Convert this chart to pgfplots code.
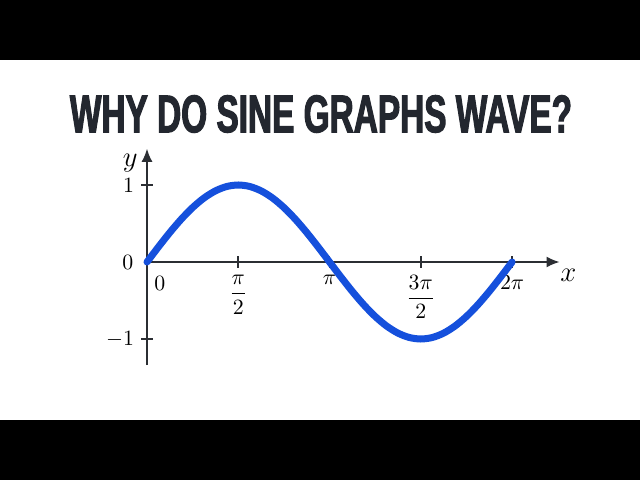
\documentclass[border=0pt]{standalone}
\usepackage{pgfplots}
\pgfplotsset{compat=1.18}
\usepackage{amsmath}
\usepackage{fontspec}
\usetikzlibrary{arrows.meta}
\newfontfamily\titlefont[FakeStretch=0.63,FakeBold=2]{Liberation Sans Bold}
\definecolor{titlecol}{HTML}{23272F}
\definecolor{axiscol}{HTML}{2B2E33}
\definecolor{sinecol}{HTML}{1550DC}

\begin{document}
\begin{tikzpicture}
\begin{scope}[x=0.5bp,y=-0.5bp]
  \useasboundingbox (0,0) rectangle (640,480);
  \fill[white] (0,0) rectangle (640,480);
  \fill[black] (0,0) rectangle (640,60);
  \fill[black] (0,420) rectangle (640,480);
  \node[text=titlecol,inner sep=0pt] at (321,114)
    {\titlefont\fontsize{26.5bp}{30bp}\selectfont WHY DO SINE GRAPHS WAVE?};
  \coordinate (O) at (147,262);
\end{scope}
\begin{axis}[
  at={(O)}, anchor=origin,
  x=29.05bp, y=38.5bp,
  xmin=0, xmax=7.1, ymin=-1.34, ymax=1.47,
  axis lines=middle,
  axis line style={axiscol,line width=0.8bp,-{Latex[length=6.5bp,width=5.5bp]}},
  tick style={axiscol,line width=0.8bp},
  major tick length=6bp,
  tick align=center,
  xtick={1.5708,3.14159,4.71239,6.28319},
  xticklabels={$\dfrac{\pi}{2}$,$\pi$,$\dfrac{3\pi}{2}$,$2\pi$},
  ytick={-1,1},
  ticklabel style={font=\fontsize{11bp}{13bp}\selectfont},
  clip=false,
]
\addplot[sinecol,line width=3.5bp,line cap=round,smooth] coordinates {
  (0,0) (0.19635,0.19509) (0.39270,0.38268) (0.58905,0.55557)
  (0.78540,0.70711) (0.98175,0.83147) (1.17810,0.92388) (1.37445,0.98079)
  (1.57080,1) (1.76715,0.98079) (1.96350,0.92388) (2.15984,0.83147)
  (2.35619,0.70711) (2.55254,0.55557) (2.74889,0.38268) (2.94524,0.19509)
  (3.14159,0) (3.33794,-0.19509) (3.53429,-0.38268) (3.73064,-0.55557)
  (3.92699,-0.70711) (4.12334,-0.83147) (4.31969,-0.92388) (4.51604,-0.98079)
  (4.71239,-1) (4.90874,-0.98079) (5.10509,-0.92388) (5.30144,-0.83147)
  (5.49779,-0.70711) (5.69414,-0.55557) (5.89049,-0.38268) (6.08684,-0.19509)
  (6.28319,0)
};
\node[font=\fontsize{11bp}{13bp}\selectfont] at (axis cs:0.22,-0.28) {$0$};
\node[font=\fontsize{11bp}{13bp}\selectfont] at (axis cs:-0.33,0) {$0$};
\node[font=\fontsize{14bp}{16bp}\selectfont,inner sep=0pt] at (axis cs:7.25,-0.17) {$x$};
\node[font=\fontsize{14bp}{16bp}\selectfont,inner sep=0pt] at (axis cs:-0.29,1.28) {$y$};
\end{axis}
\end{tikzpicture}
\end{document}
